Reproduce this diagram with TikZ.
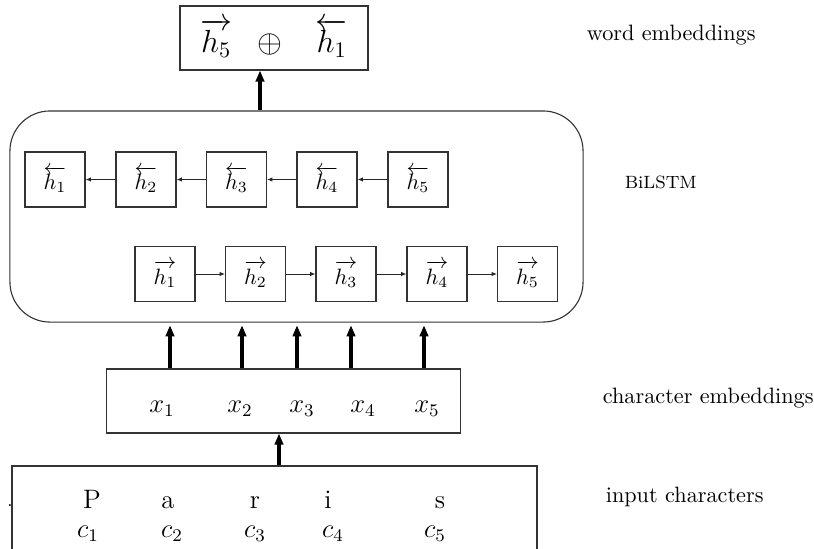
\documentclass[tikz,border=0pt]{standalone}
\usepackage{amsmath,amssymb}
\usetikzlibrary{arrows.meta,positioning}

\begin{document}
\begin{tikzpicture}[
  x=0.45pt, y=-0.45pt,
  box/.style={rectangle, draw=black!80, line width=0.5pt, inner sep=0pt},
  cell/.style={box, minimum width=27pt, minimum height=24.75pt, font=\normalsize},
  arr/.style={-{Latex[length=2.4pt,width=2pt]}, line width=0.45pt, draw=black!85},
  bigarr/.style={-{Triangle[length=5pt,width=3.8pt]}, line width=1.5pt},
  lab/.style={anchor=west, font=\normalsize},
  sym/.style={anchor=base, font=\large},
]
\clip (0,0) rectangle (814,548);
% ---------- word embedding ----------
\node[box, minimum width=84.6pt, minimum height=28.8pt, font=\Large] (word) at (274,38)
  {$\overrightarrow{h_5}\;\;\oplus\;\;\;\overleftarrow{h_1}$};
% ---------- BiLSTM ----------
\node[box, rounded corners=18pt, minimum width=257.9pt, minimum height=95pt] (bil) at (296.5,216.5) {};
\foreach \i/\x in {1/55,2/146,3/236.5,4/327,5/418}
  \node[cell] (b\i) at (\x,179.5) {$\overleftarrow{h_\i}$};
\foreach \i/\x in {1/165,2/255.5,3/346,4/437,5/527.5}
  \node[cell] (f\i) at (\x,274) {$\overrightarrow{h_\i}$};
\foreach \i [count=\j from 2] in {1,...,4}{
  \draw[arr] (f\i) -- (f\j);
  \draw[arr] (b\j) -- (b\i);}
% ---------- character embeddings ----------
\node[box, minimum width=158.9pt, minimum height=28.8pt] (emb) at (283.5,401) {};
\foreach \i/\x in {1/162,2/240,3/302,4/363,5/427}
  \node[sym] (x\i) at (\x,412) {$x_\i$};
% ---------- input characters ----------
\node[box, minimum width=236.25pt, minimum height=60.3pt] (inp) at (274.5,533) {};
\foreach \i/\c/\x in {1/P/92,2/a/168,3/r/255,4/i/328,5/s/440}
  \node[sym] (ch\i) at (\x,508) {\c};
\foreach \i/\x in {1/88,2/172,3/255,4/333,5/435}
  \node[sym] (c\i) at (\x,537) {$c_\i$};
\node[inner sep=0pt, font=\footnotesize] (dot) at (10,506) {.};

% ---------- arrows ----------
\draw[bigarr] (inp.north -| 279,0) -- (emb.south -| 279,0);
\foreach \x in {170,242,297,351,424}
  \draw[bigarr, shorten >=1.2pt] (emb.north -| \x,0) -- (bil.south -| \x,0);
\draw[bigarr] (bil.north -| 260,0) -- (word.south -| 260,0);

% ---------- labels ----------
\node[lab] (lword) at (579,35) {word embeddings};
\node[lab, font=\footnotesize] (lbil) at (617,182) {BiLSTM};
\node[lab] (lemb) at (595,398) {character embeddings};
\node[lab] (linp) at (598,497) {input characters};
\end{tikzpicture}
\end{document}
